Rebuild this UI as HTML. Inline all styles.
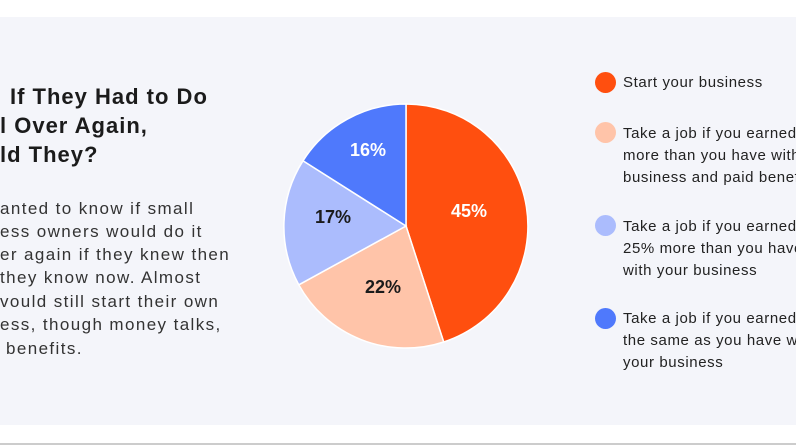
<!DOCTYPE html><html><head><style>
body{margin:0;width:796px;height:445px;background:#fff;position:relative;overflow:hidden;font-family:"Liberation Sans",sans-serif}
#p{position:absolute;left:0;top:17px;width:796px;height:408px;background:#f4f5fa}
#bl{position:absolute;left:0;top:443px;width:796px;height:2px;background:#ccc}
.t{position:absolute;font-weight:bold;font-size:22px;color:#1b1b1b;white-space:nowrap;letter-spacing:1px}
.b{position:absolute;font-size:17px;color:#333;white-space:nowrap;letter-spacing:1.4px}
.l{position:absolute;left:623px;font-size:15px;color:#222;line-height:22px;white-space:nowrap;letter-spacing:0.6px}
.d{position:absolute;left:595px;width:21px;height:21px;border-radius:50%}
</style></head><body>
<div id="p"></div><div id="bl"></div>
<div class="t" style="left:10px;top:84px">If They Had to Do</div>
<div class="t" style="left:0;top:113px">l Over Again,</div>
<div class="t" style="left:0;top:142px">ld They?</div>
<div class="b" style="left:0;top:199px">anted to know if small</div>
<div class="b" style="left:0;top:222px">ess owners would do it</div>
<div class="b" style="left:0;top:245px">er again if they knew then</div>
<div class="b" style="left:0;top:268px">they know now. Almost</div>
<div class="b" style="left:0;top:292px">vould still start their own</div>
<div class="b" style="left:0;top:315px">ess, though money talks,</div>
<div class="b" style="left:6px;top:339px">benefits.</div>
<svg width="796" height="445" style="position:absolute;left:0;top:0">
<g stroke="#fff" stroke-width="1.5">
<path d="M406,226 L406,104 A122,122 0 0 1 443.7,342.0 Z" fill="#ff4f0f"/>
<path d="M406,226 L443.7,342.0 A122,122 0 0 1 298.8,284.8 Z" fill="#ffc4a9"/>
<path d="M406,226 L298.8,284.8 A122,122 0 0 1 303.0,160.8 Z" fill="#abbcfd"/>
<path d="M406,226 L303.0,160.8 A122,122 0 0 1 406,104 Z" fill="#4f79fc"/>
</g>
<g font-family="Liberation Sans" font-weight="bold" font-size="18" text-anchor="middle">
<text x="469" y="217" fill="#fff">45%</text>
<text x="383" y="293" fill="#1b1b1b">22%</text>
<text x="333" y="223" fill="#1b1b1b">17%</text>
<text x="368" y="156" fill="#fff">16%</text>
</g></svg>
<div class="d" style="top:72px;background:#ff4f0f"></div>
<div class="d" style="top:122px;background:#ffc4a9"></div>
<div class="d" style="top:215px;background:#abbcfd"></div>
<div class="d" style="top:308px;background:#4f79fc"></div>
<div class="l" style="top:72px">Start your business</div>
<div class="l" style="top:123px">Take a job if you earned<br>more than you have with<br>business and paid benefits</div>
<div class="l" style="top:216px">Take a job if you earned<br>25% more than you have<br>with your business</div>
<div class="l" style="top:308px">Take a job if you earned<br>the same as you have w<br>your business</div>
</body></html>
